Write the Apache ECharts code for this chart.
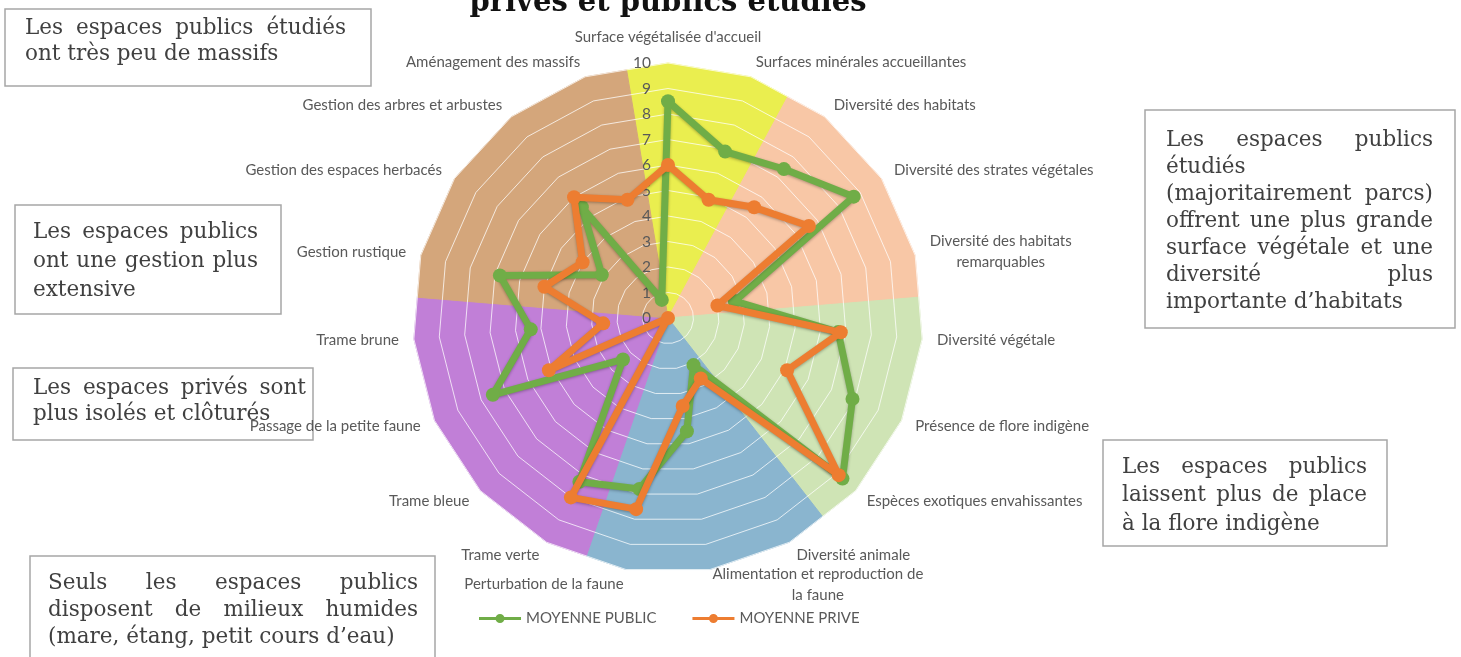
<!DOCTYPE html>
<html>
<head>
<meta charset="utf-8">
<title>Espaces privés et publics étudiés</title>
<script src="https://cdn.jsdelivr.net/npm/echarts@6/dist/echarts.min.js"></script>
<style>
html, body { margin: 0; padding: 0; background: #fff; }
#chart { width: 1461px; height: 657px; }
</style>
</head>
<body>
<div id="chart"></div>
<script>
// critères, dans le sens des aiguilles d'une montre à partir du haut
var criteres = [
    "Surface végétalisée d'accueil",
    "Surfaces minérales accueillantes",
    "Diversité des habitats",
    "Diversité des strates végétales",
    "Diversité des habitats\nremarquables",
    "Diversité végétale",
    "Présence de flore indigène",
    "Espèces exotiques envahissantes",
    "Diversité animale",
    "Alimentation et reproduction de\nla faune",
    "Perturbation de la faune",
    "Trame verte",
    "Trame bleue",
    "Passage de la petite faune",
    "Trame brune",
    "Gestion rustique",
    "Gestion des espaces herbacés",
    "Gestion des arbres et arbustes",
    "Aménagement des massifs"
];
var moyennePublic = [8.5, 6.9, 7.4, 8.7, 2.7, 6.7, 7.9, 9.3, 2.1, 4.5, 6.8, 7.3, 2.4, 7.5, 5.4, 6.8, 3.1, 5.5, 0.75];
var moyennePrive  = [6.0, 4.9, 5.5, 6.6, 2.0, 6.8, 5.1, 9.1, 2.7, 3.5, 7.6, 8.0, 0, 5.1, 2.55, 5.0, 4.0, 6.0, 4.9];

// secteurs de fond : nombre de critères par thème et couleur
var themeTailles = [2, 3, 3, 3, 4, 4];
var themeCouleurs = ['#eaee4f', '#f8c7a6', '#cfe4b5', '#8ab5cf', '#c17fd7', '#d4a67b'];

var echelle = [0, 10];

var noteMassifs = ["Les espaces publics étudiés", "ont très peu de massifs"];
var noteGestion = ["Les espaces publics", "ont une gestion plus", "extensive"];
var notePrives = ["Les espaces privés sont", "plus isolés et clôturés"];
var noteHumides = ["Seuls les espaces publics", "disposent de milieux humides", "(mare, étang, petit cours d’eau)"];
var noteSurface = ["Les espaces publics", "étudiés", "(majoritairement parcs)", "offrent une plus grande", "surface végétale et une", "diversité plus", "importante d’habitats"];
var noteFlore = ["Les espaces publics", "laissent plus de place", "à la flore indigène"];

// le radar d'echarts tourne dans le sens inverse : on garde le premier et on inverse le reste
function sensHoraire(arr) {
    var out = [arr[0]];
    for (var i = arr.length - 1; i > 0; i--) {
        out.push(arr[i]);
    }
    return out;
}

var n = criteres.length;
var demiPas = 2 * n;

/* fond : un radar à demi-pas, chaque thème va du milieu avant son premier critère au milieu après le dernier */
var fondIndicateurs = [];
for (var k = 0; k < demiPas; k++) {
    fondIndicateurs.push({ name: 'f' + k, min: echelle[0], max: echelle[1] });
}
var bord = echelle[1] * Math.cos(Math.PI / n);
var fondData = [];
var debut = 0;
for (var g = 0; g < themeTailles.length; g++) {
    var fin = debut + themeTailles[g] - 1;
    var v = [];
    for (var p = 0; p < demiPas; p++) {
        v.push(0);
    }
    for (var q = 2 * debut - 1; q <= 2 * fin + 1; q++) {
        v[(q + demiPas) % demiPas] = (q % 2 === 0) ? echelle[1] : bord;
    }
    fondData.push({
        value: sensHoraire(v),
        areaStyle: { color: themeCouleurs[g], opacity: 1 },
        lineStyle: { color: themeCouleurs[g], width: 1 }
    });
    debut = fin + 1;
}

var indicateurs = sensHoraire(criteres).map(function(nom, i) {
    var ind = { name: nom, min: echelle[0], max: echelle[1] };
    if (i === 0) {
        ind.axisLabel = { show: true };
    }
    return ind;
});

/* encadrés justifiés */
var mesure = document.createElement('canvas').getContext('2d');
var policeNote = '21.5px "DejaVu Serif"';
function largeur(texte) {
    mesure.font = policeNote;
    return mesure.measureText(texte).width;
}
function encadre(cadre, lignes, x0, x1, y0, pas) {
    var els = [{
        type: 'rect',
        shape: { x: cadre[0], y: cadre[1], width: cadre[2], height: cadre[3] },
        style: { fill: 'none', stroke: '#a6a6a6', lineWidth: 1.5 }
    }];
    for (var i = 0; i < lignes.length; i++) {
        var mots = lignes[i].split(' ');
        var tailles = mots.map(largeur);
        var total = 0;
        for (var j = 0; j < tailles.length; j++) total += tailles[j];
        var justifie = i < lignes.length - 1 && mots.length > 1;
        var espace = justifie ? (x1 - x0 - total) / (mots.length - 1) : largeur(' ');
        var x = x0;
        for (var m = 0; m < mots.length; m++) {
            els.push({
                type: 'text', x: x, y: y0 + i * pas,
                style: { text: mots[m], font: policeNote, fill: '#404040', verticalAlign: 'middle' }
            });
            x += tailles[m] + espace;
        }
    }
    return els;
}

var iconeLegende = 'path://M0,5h42v3H0z M16.5,6.5a4.5,4.5 0 1 1 9,0a4.5,4.5 0 1 1 -9,0z';
var police = 'Lato';
var gris = '#595959';

function serie(nom, valeurs, couleur, z) {
    var trait = { color: couleur, width: 7, shadowColor: 'rgba(0,0,0,0.3)', shadowBlur: 3, shadowOffsetY: 1 };
    return {
        type: 'radar',
        radarIndex: 0,
        name: nom,
        z: z,
        symbol: 'circle',
        symbolSize: 14,
        itemStyle: { color: couleur },
        lineStyle: trait,
        data: [{ name: nom, value: sensHoraire(valeurs), symbolSize: 14, lineStyle: trait, itemStyle: { color: couleur } }]
    };
}

var graphiques = [{
    type: 'text', x: 668, y: 18,
    style: { text: 'privés et publics étudiés', font: 'bold 29px "DejaVu Serif"', fill: '#111', align: 'center', verticalAlign: 'bottom' }
}]
    .concat(encadre([5, 9, 366, 77], noteMassifs, 25, 346, 28, 26.5))
    .concat(encadre([15, 205, 266, 109], noteGestion, 33, 258, 232, 29))
    .concat(encadre([13, 368, 300, 72], notePrives, 33, 306, 388, 26))
    .concat(encadre([30, 556, 405, 120], noteHumides, 48, 418, 583, 27))
    .concat(encadre([1145, 110, 310, 218], noteSurface, 1166, 1433, 140, 27))
    .concat(encadre([1103, 440, 284, 106], noteFlore, 1122, 1367, 467, 28.5));

var myChart = echarts.init(document.getElementById('chart'));
var option = {
    animation: false,
    backgroundColor: '#fff',
    graphic: graphiques,
    legend: {
        data: [
            { name: 'MOYENNE PUBLIC', icon: iconeLegende },
            { name: 'MOYENNE PRIVE', icon: iconeLegende }
        ],
        left: 474,
        top: 606,
        itemWidth: 42,
        itemHeight: 10,
        itemGap: 36,
        selectedMode: false,
        textStyle: { color: gris, fontFamily: police, fontSize: 15 }
    },
    radar: [
        {
            center: [668, 318],
            radius: 255,
            startAngle: 90,
            splitNumber: 10,
            shape: 'polygon',
            z: 2,
            indicator: indicateurs,
            axisNameGap: 15,
            axisName: {
                color: gris,
                fontFamily: police,
                fontSize: 15,
                formatter: function(nom) {
                    return nom.split('\n').map(function(l) { return '{c|' + l + '}'; }).join('\n');
                },
                rich: {
                    c: { align: 'center', color: gris, fontFamily: police, fontSize: 15, lineHeight: 21 }
                }
            },
            axisLine: { show: false },
            axisTick: { show: false },
            axisLabel: { show: false, color: gris, fontFamily: police, fontSize: 15.5, margin: 17 },
            splitLine: { lineStyle: { color: 'rgba(255,255,255,0.75)', width: 1 } },
            splitArea: { show: false }
        },
        {
            center: [668, 318],
            radius: 255,
            startAngle: 90,
            silent: true,
            indicator: fondIndicateurs,
            axisName: { show: false },
            axisLine: { show: false },
            axisTick: { show: false },
            axisLabel: { show: false },
            splitLine: { show: false },
            splitArea: { show: false }
        }
    ],
    series: [
        {
            type: 'radar',
            radarIndex: 1,
            silent: true,
            z: 1,
            symbol: 'none',
            data: fondData
        },
        serie('MOYENNE PUBLIC', moyennePublic, '#70ad47', 3),
        serie('MOYENNE PRIVE', moyennePrive, '#ed7d31', 4)
    ]
};
myChart.setOption(option);
window.addEventListener('resize', function() {
    myChart.resize();
});
</script>
</body>
</html>
